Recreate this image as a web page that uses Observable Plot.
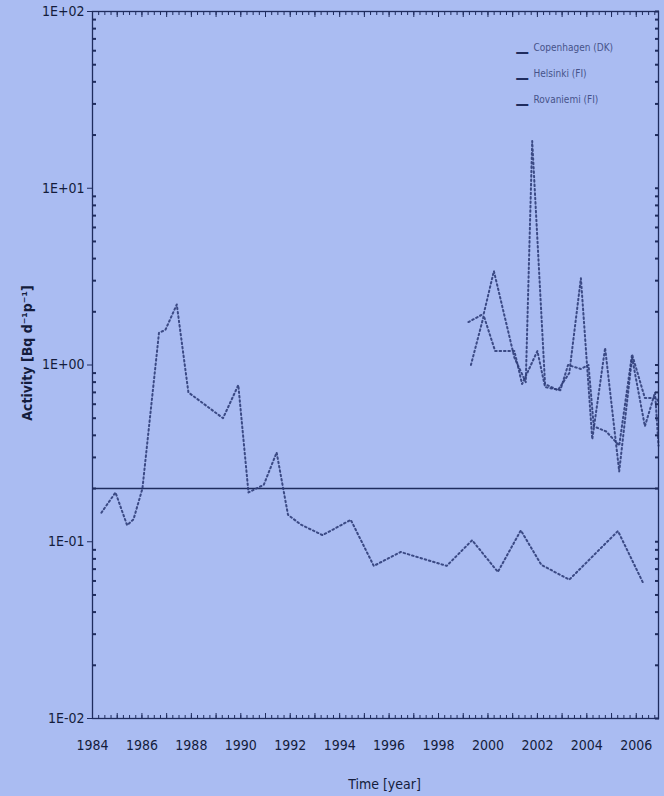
<!DOCTYPE html>
<html><head><meta charset="utf-8">
<script src="https://cdn.jsdelivr.net/npm/d3@7"></script>
<script src="https://cdn.jsdelivr.net/npm/@observablehq/plot@0.6"></script>
<style>
html,body{margin:0;padding:0;background:#aabcf2;}
#chart svg{display:block;background:#aabcf2;}
</style></head><body><div id="chart"></div>
<script>
// ---- data ----
const seriesNames = ["Copenhagen (DK)", "Helsinki (FI)", "Rovaniemi (FI)"];

const copenhagenYears = [1984.36, 1984.93, 1985.4, 1985.66, 1986.02, 1986.69, 1986.95, 1987.41, 1987.88, 1989.28, 1989.9, 1990.31, 1990.93, 1991.45, 1991.91, 1992.43, 1993.31, 1994.45, 1995.38, 1996.47, 1998.33, 1999.36, 2000.4, 2001.33, 2002.16, 2003.29, 2005.26, 2006.29];
const copenhagenValues = [0.146, 0.19, 0.124, 0.134, 0.2, 1.52, 1.58, 2.2, 0.70, 0.50, 0.77, 0.19, 0.21, 0.32, 0.142, 0.125, 0.109, 0.133, 0.073, 0.0875, 0.073, 0.102, 0.0675, 0.116, 0.074, 0.061, 0.115, 0.058];

const helsinkiYears = [1999.21, 1999.83, 2000.24, 2001.07, 2001.53, 2001.79, 2002.31, 2002.83, 2003.29, 2003.76, 2004.22, 2004.74, 2005.31, 2005.83, 2006.35, 2006.76, 2006.9];
const helsinkiValues = [1.75, 1.95, 3.4, 1.1, 0.8, 18.5, 0.78, 0.72, 0.9, 3.1, 0.38, 1.25, 0.25, 1.1, 0.45, 0.7, 0.35];

const rovaniemiYears = [1999.31, 1999.83, 2000.29, 2001.07, 2001.38, 2002.0, 2002.31, 2002.93, 2003.24, 2003.76, 2004.07, 2004.28, 2004.79, 2005.31, 2005.83, 2006.35, 2006.81, 2006.9];
const rovaniemiValues = [1.0, 1.9, 1.2, 1.2, 0.78, 1.2, 0.75, 0.72, 1.0, 0.95, 1.0, 0.45, 0.42, 0.35, 1.15, 0.65, 0.65, 0.62];

const yTickValues = [0.01, 0.1, 1, 10, 100];
const yTickLabels = ["1E-02", "1E-01", "1E+00", "1E+01", "1E+02"];
const xTickYears = [1984, 1986, 1988, 1990, 1992, 1994, 1996, 1998, 2000, 2002, 2004, 2006];
const thresholdValue = 0.2;
const xTitle = "Time [year]";
const yTitle = "Activity [Bq d⁻¹p⁻¹]";

// ---- build table ----
const table = [];
[[copenhagenYears, copenhagenValues], [helsinkiYears, helsinkiValues], [rovaniemiYears, rovaniemiValues]]
  .forEach(([xs, vs], s) => xs.forEach((x, i) => table.push({series: seriesNames[s], year: x, value: vs[i]})));

const navy = "#1f2c5e";
const lineColor = "#2f3d79";
const textColor = "#141c3c";
const font = "'Liberation Sans Narrow','DejaVu Sans Condensed','Liberation Sans',sans-serif";

const minorY = [];
for (const d of [0.01, 0.1, 1, 10]) for (let k = 2; k <= 9; k++) minorY.push(d * k);
const quarterX = d3.range(1984, 2006.91, 0.25);
const yearX = d3.range(1984, 2007, 1);

const legendMarks = seriesNames.flatMap((name, i) => [
  Plot.text([name], {frameAnchor: "top-left", dx: 441, dy: 32 + i * 26, textAnchor: "start", fontSize: 10, fill: "#46538a", fontFamily: font}),
  Plot.text(["—"], {frameAnchor: "top-left", dx: 423, dy: 35 + i * 26, textAnchor: "start", fontSize: 15, fill: navy, fontWeight: "bold"})
]);

const chart = Plot.plot({
  width: 664,
  height: 796,
  marginLeft: 92,
  marginRight: 6,
  marginTop: 11,
  marginBottom: 78,
  style: {background: "#aabcf2", fontFamily: font, color: navy},
  x: {domain: [1984, 2006.9]},
  y: {type: "log", domain: [0.01, 100]},
  marks: [
    Plot.ruleY([thresholdValue], {stroke: navy, strokeWidth: 1.5}),
    Plot.line(table, {x: "year", y: "value", z: "series", stroke: lineColor, strokeWidth: 2, strokeDasharray: "1.6,2.8", strokeLinecap: "round", strokeOpacity: 0.9}),
    // left axis: labelled decades with small outward ticks
    Plot.axisY(yTickValues, {anchor: "left", tickSize: 5, tickPadding: 3, fontSize: 14, tickFormat: d => yTickLabels[yTickValues.indexOf(d)], label: null, stroke: navy, fill: textColor}),
    Plot.axisY(minorY, {anchor: "left", tickSize: -4, tickFormat: () => "", label: null, stroke: navy, strokeWidth: 2}),
    Plot.axisY(minorY.concat(yTickValues), {anchor: "right", tickSize: -4, tickFormat: () => "", label: null, stroke: navy, strokeWidth: 2}),
    Plot.axisX(quarterX, {anchor: "top", tickSize: -3, tickFormat: () => "", label: null, stroke: navy}),
    Plot.axisX(yearX, {anchor: "top", tickSize: -5, tickFormat: () => "", label: null, stroke: navy}),
    Plot.axisX(quarterX, {anchor: "bottom", tickSize: -3, tickFormat: () => "", label: null, stroke: navy}),
    Plot.axisX(yearX, {anchor: "bottom", tickSize: -5, tickFormat: () => "", label: null, stroke: navy}),
    Plot.axisX(xTickYears, {anchor: "bottom", tickSize: 0, tickPadding: 22, fontSize: 14, tickFormat: d => String(d), label: null, fill: textColor}),
    Plot.text([yTitle], {frameAnchor: "left", textAnchor: "middle", rotate: -90, dx: -65, dy: -12, fontSize: 14, fontWeight: "bold", fill: textColor}),
    Plot.text([xTitle], {frameAnchor: "bottom", dx: 9, dy: 70, fontSize: 14, fill: textColor}),
    Plot.frame({stroke: navy, strokeWidth: 1.3}),
    ...legendMarks
  ]
});
document.getElementById("chart").appendChild(chart);
</script>
</body></html>
